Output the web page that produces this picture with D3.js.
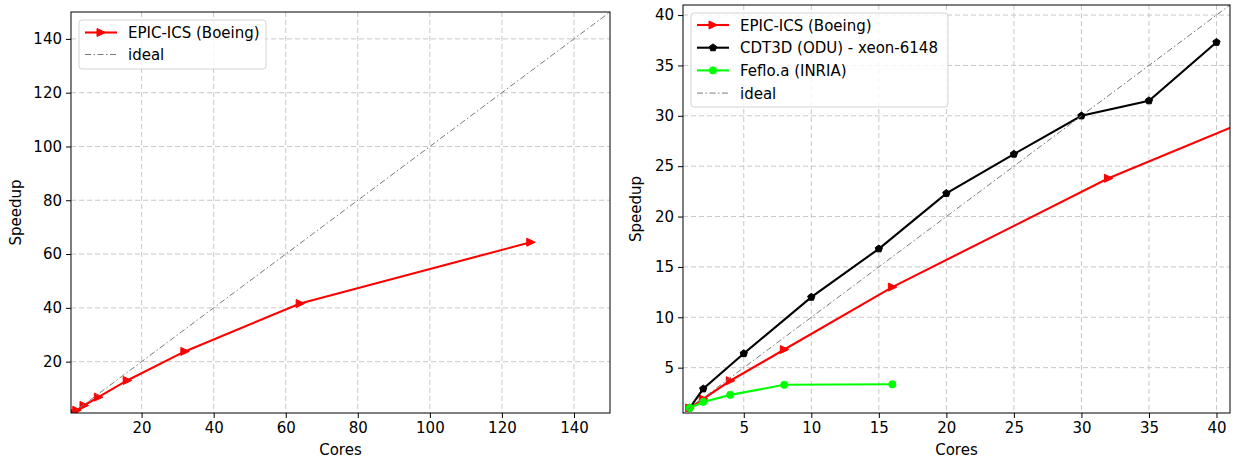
<!DOCTYPE html>
<html>
<head>
<meta charset="utf-8">
<script src="https://cdn.jsdelivr.net/npm/d3@7"></script>
<style>
  body { margin: 0; background: #fff; }
  svg { display: block; font-family: "DejaVu Sans", sans-serif; }
  .tick text { font-family: "DejaVu Sans", sans-serif; font-size: 15px; fill: #000; }
  .axis-label { font-size: 15px; fill: #000; }
  .leg-text { font-size: 15px; fill: #000; }
</style>
</head>
<body>
<svg id="chart"></svg>
<script>
// data
const coresEpic  = [1, 2, 4, 8, 16, 32, 64, 128];
const speedEpic  = [1, 1.9, 3.7, 6.8, 13.0, 23.8, 41.6, 64.4];
const coresCdt   = [1, 2, 5, 10, 15, 20, 25, 30, 35, 40];
const speedCdt   = [1, 2.9, 6.4, 12.0, 16.8, 22.3, 26.2, 30.0, 31.5, 37.3];
const coresFeflo = [1, 2, 4, 8, 16];
const speedFeflo = [1, 1.6, 2.3, 3.3, 3.35];
const idealLeft  = [0, 150];
const idealRight = [0, 41];
const ticksLeft  = [20, 40, 60, 80, 100, 120, 140];
const ticksRight = [5, 10, 15, 20, 25, 30, 35, 40];

const W = 1238, H = 459;
const svg = d3.select("#chart").attr("width", W).attr("height", H);
svg.append("rect").attr("width", W).attr("height", H).attr("fill", "#fff");

const zip = (xs, ys) => xs.map((x, i) => ({ x, y: ys[i] }));

const SERIES = {
  epic:  { name: "EPIC-ICS (Boeing)", color: "#ff0000", marker: "tri" },
  cdt:   { name: "CDT3D (ODU) - xeon-6148", color: "#000000", marker: "pent" },
  feflo: { name: "Feflo.a (INRIA)", color: "#00ff00", marker: "circ" },
  ideal: { name: "ideal", color: "#7a7a7a", marker: null }
};

function drawMarker(sel, type, color) {
  if (type === "tri") {
    sel.append("path").attr("d", "M4.5,0 L-4,-4 L-4,4 Z").attr("fill", color).attr("stroke", color);
  } else if (type === "pent") {
    const pts = d3.range(5).map(i => {
      const a = -Math.PI / 2 + i * 2 * Math.PI / 5;
      return [3.8 * Math.cos(a), 3.8 * Math.sin(a)];
    });
    sel.append("path").attr("d", "M" + pts.join("L") + "Z").attr("fill", color).attr("stroke", color);
  } else if (type === "circ") {
    sel.append("circle").attr("r", 3.6).attr("fill", color).attr("stroke", color);
  }
}

function panel(cfg, idx) {
  const { left, top, right, bottom } = cfg.box;
  const x = d3.scaleLinear().domain(cfg.xDomain).range([left, right]);
  const y = d3.scaleLinear().domain(cfg.yDomain).range([bottom, top]);
  const g = svg.append("g");
  const clipId = "clip" + idx;
  g.append("clipPath").attr("id", clipId).append("rect")
    .attr("x", left).attr("y", top).attr("width", right - left).attr("height", bottom - top);

  // grid
  g.selectAll(".vgrid").data(cfg.ticks).enter().append("line")
    .attr("x1", d => x(d)).attr("x2", d => x(d)).attr("y1", top).attr("y2", bottom)
    .attr("stroke", "#c8c8c8").attr("stroke-width", 1).attr("stroke-dasharray", "5,3");
  g.selectAll(".hgrid").data(cfg.ticks).enter().append("line")
    .attr("y1", d => y(d)).attr("y2", d => y(d)).attr("x1", left).attr("x2", right)
    .attr("stroke", "#c8c8c8").attr("stroke-width", 1).attr("stroke-dasharray", "5,3");

  const plot = g.append("g").attr("clip-path", `url(#${clipId})`);
  const line = d3.line().x(d => x(d.x)).y(d => y(d.y));

  cfg.series.forEach(s => {
    const st = SERIES[s.key];
    if (s.key === "ideal") {
      plot.append("path").datum(s.data).attr("d", line).attr("fill", "none")
        .attr("stroke", st.color).attr("stroke-width", 1)
        .attr("stroke-dasharray", "6,2.5,1.5,2.5");
      return;
    }
    plot.append("path").datum(s.data).attr("d", line).attr("fill", "none")
      .attr("stroke", st.color).attr("stroke-width", 2.1);
    s.data.forEach(d => {
      const m = plot.append("g").attr("transform", `translate(${x(d.x)},${y(d.y)})`);
      drawMarker(m, st.marker, st.color);
    });
  });

  // axes
  const xa = g.append("g").attr("transform", `translate(0,${bottom})`)
    .call(d3.axisBottom(x).tickValues(cfg.ticks).tickSize(5).tickPadding(4).tickSizeOuter(0));
  const ya = g.append("g").attr("transform", `translate(${left},0)`)
    .call(d3.axisLeft(y).tickValues(cfg.ticks).tickSize(5).tickPadding(4).tickSizeOuter(0));
  [xa, ya].forEach(a => {
    a.attr("font-family", null).attr("font-size", null);
    a.select(".domain").remove();
    a.selectAll(".tick line").attr("stroke", "#000");
  });

  g.append("rect").attr("x", left).attr("y", top)
    .attr("width", right - left).attr("height", bottom - top)
    .attr("fill", "none").attr("stroke", "#000").attr("stroke-width", 1);

  g.append("text").attr("class", "axis-label")
    .attr("x", (left + right) / 2).attr("y", 455).attr("text-anchor", "middle").text("Cores");
  g.append("text").attr("class", "axis-label")
    .attr("transform", `translate(${cfg.ylabelX},${(top + bottom) / 2}) rotate(-90)`)
    .attr("text-anchor", "middle").text("Speedup");

  // legend
  const L = cfg.legend;
  const lg = g.append("g");
  lg.append("rect").attr("x", L.x).attr("y", L.y).attr("width", L.w).attr("height", L.h)
    .attr("rx", 3).attr("fill", "#fff").attr("fill-opacity", 0.8)
    .attr("stroke", "#d4d4d4").attr("stroke-width", 1);
  cfg.series.forEach((s, i) => {
    const st = SERIES[s.key];
    const cy = L.y + L.first + i * L.step;
    const x0 = L.x + 6, x1 = L.x + 38;
    const ln = lg.append("line").attr("x1", x0).attr("x2", x1).attr("y1", cy).attr("y2", cy)
      .attr("stroke", st.color);
    if (s.key === "ideal") {
      ln.attr("stroke-width", 1).attr("stroke-dasharray", "6,2.5,1.5,2.5");
    } else {
      ln.attr("stroke-width", 2.1);
      drawMarker(lg.append("g").attr("transform", `translate(${(x0 + x1) / 2},${cy})`), st.marker, st.color);
    }
    lg.append("text").attr("class", "leg-text").attr("x", L.x + 49).attr("y", cy + 5.5).text(st.name);
  });
}

panel({
  box: { left: 71, top: 12, right: 610, bottom: 413 },
  xDomain: [0.4, 150], yDomain: [0.9, 150],
  ticks: ticksLeft, ylabelX: 21,
  series: [
    { key: "epic", data: zip(coresEpic, speedEpic) },
    { key: "ideal", data: zip(idealLeft, idealLeft) }
  ],
  legend: { x: 79, y: 20, w: 187, h: 49, first: 12.5, step: 22 }
}, 0);

panel({
  box: { left: 683, top: 5, right: 1230, bottom: 413 },
  xDomain: [0.5, 41], yDomain: [0.5, 41],
  ticks: ticksRight, ylabelX: 641,
  series: [
    { key: "epic", data: zip(coresEpic, speedEpic) },
    { key: "cdt", data: zip(coresCdt, speedCdt) },
    { key: "feflo", data: zip(coresFeflo, speedFeflo) },
    { key: "ideal", data: zip(idealRight, idealRight) }
  ],
  legend: { x: 691, y: 13, w: 257, h: 94, first: 12, step: 22.7 }
}, 1);
</script>
</body>
</html>
